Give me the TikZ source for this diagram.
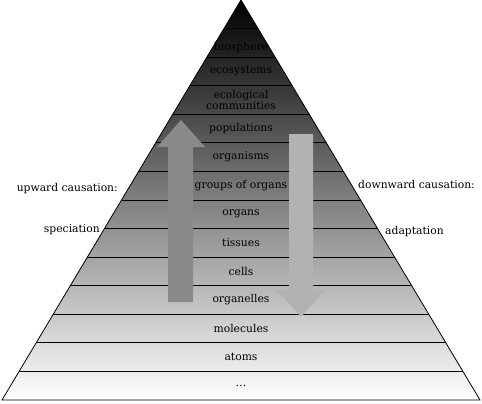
\documentclass[tikz,border=0pt]{standalone}
\usepackage{fontspec}
\setmainfont{DejaVu Serif}
\usetikzlibrary{calc}

\begin{document}
\begin{tikzpicture}[
  x=1bp, y=-1bp,
  every node/.style={font=\fontsize{10.8}{11}\selectfont},
  level/.style={align=center, inner sep=1pt},
  side/.style={inner sep=1pt},
  bandline/.style={line width=0.8pt, black},
  upfill/.style={fill=black!46},
  downfill/.style={fill=black!30}
]
  \useasboundingbox (0,0) rectangle (482,403);

  % Pyramide
  \coordinate (apex) at (241,0);
  \coordinate (bl) at (2,400);
  \coordinate (br) at (480,400);
  \shade[top color=black, middle color=black!44, bottom color=white]
    (apex) -- (br) -- (bl) -- cycle;

  % Linee orizzontali delle fasce
  \foreach \k in {1,...,13}
    \draw[bandline] ($(apex)!\k/14!(bl)$) -- ($(apex)!\k/14!(br)$);
  \draw[line width=0.8pt] (apex) -- (br) -- (bl) -- cycle;

  % Frecce
  \fill[upfill] (181,120) -- (205,147) -- (193,147) -- (193,302)
    -- (168,302) -- (168,147) -- (157,147) -- cycle;
  \fill[downfill] (289,134) -- (313,134) -- (313,290) -- (325,290)
    -- (301,317) -- (277,290) -- (289,290) -- cycle;

  % Livelli
  \node[level] (bio)   at (241,48)    {biosphere};
  \node[level] (eco)   at (241,71.4)  {ecosystems};
  \node[level] (comm)  at (241,100)   {ecological\\communities};
  \node[level] (pop)   at (241,128.6) {populations};
  \node[level] (org)   at (241,157.1) {organisms};
  \node[level] (group) at (241,185.7) {groups of organs};
  \node[level] (organ) at (241,214.3) {organs};
  \node[level] (tis)   at (241,242.9) {tissues};
  \node[level] (cell)  at (241,271.4) {cells};
  \node[level] (orgl)  at (241,300)   {organelles};
  \node[level] (mol)   at (241,328.6) {molecules};
  \node[level] (atom)  at (241,357.1) {atoms};
  \node[level] (more)  at (241,385.7) {\dots};

  % Etichette laterali
  \node[side, anchor=east] (up)    at (119,189) {upward causation:};
  \node[side, anchor=east] (spec)  at (101,230) {speciation};
  \node[side, anchor=west] (down)  at (357,184) {downward causation:};
  \node[side, anchor=west] (adapt) at (384,232) {adaptation};

\end{tikzpicture}
\end{document}
